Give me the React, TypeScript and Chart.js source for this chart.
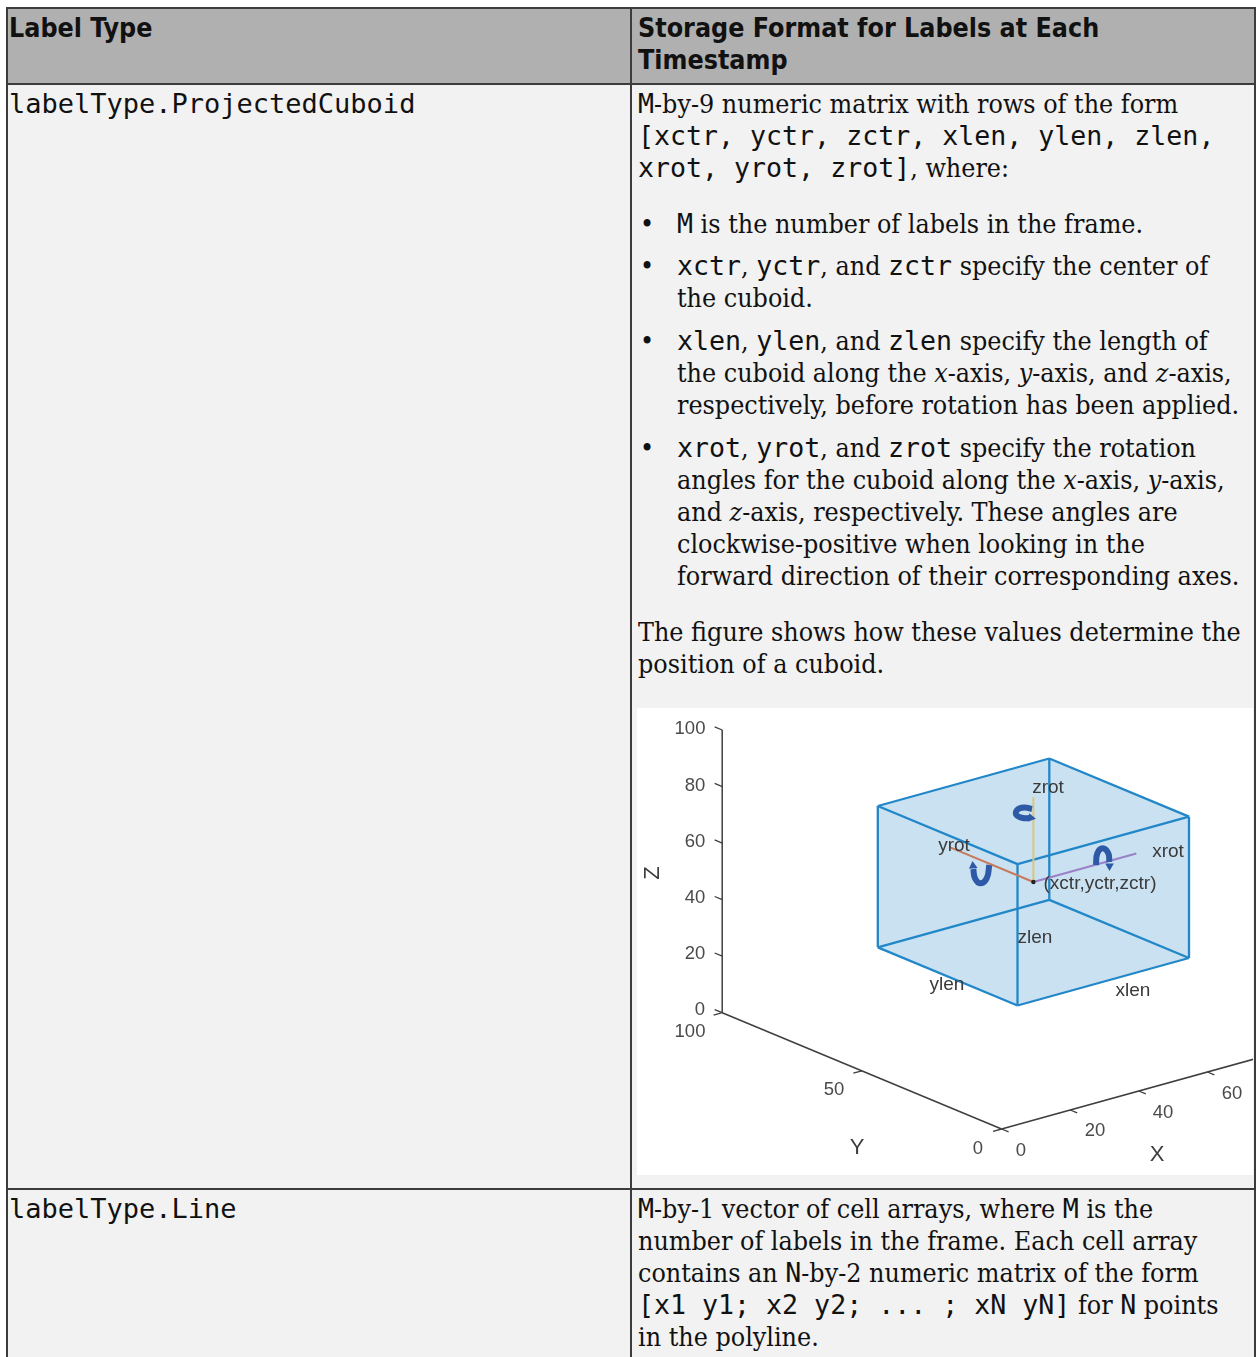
import React, { useEffect, useRef } from "react";
import { Chart, registerables } from "chart.js";

Chart.register(...registerables);

// ---------- table text ----------
// `mono`, *italic*
const headerLines = [
  { col: 0, row: 28, text: "Label Type" },
  { col: 1, row: 28, text: "Storage Format for Labels at Each" },
  { col: 1, row: 60, text: "Timestamp" },
];
const leftLines = [
  { row: 104, text: "labelType.ProjectedCuboid" },
  { row: 1209, text: "labelType.Line" },
];
const rightLines = [
  { row: 104, text: "`M`-by-9 numeric matrix with rows of the form" },
  { row: 136, text: "`[xctr, yctr, zctr, xlen, ylen, zlen,`" },
  { row: 168, text: "`xrot, yrot, zrot]`, where:" },
  { row: 632, text: "The figure shows how these values determine the" },
  { row: 664, text: "position of a cuboid." },
  { row: 1209, text: "`M`-by-1 vector of cell arrays, where `M` is the" },
  { row: 1241, text: "number of labels in the frame. Each cell array" },
  { row: 1273, text: "contains an `N`-by-2 numeric matrix of the form" },
  { row: 1305, text: "`[x1 y1; x2 y2; ... ; xN yN]` for `N` points" },
  { row: 1337, text: "in the polyline." },
];
const bulletLines = [
  { row: 224, bullet: true, text: "`M` is the number of labels in the frame." },
  { row: 266, bullet: true, text: "`xctr`, `yctr`, and `zctr` specify the center of" },
  { row: 298, bullet: false, text: "the cuboid." },
  { row: 341, bullet: true, text: "`xlen`, `ylen`, and `zlen` specify the length of" },
  { row: 373, bullet: false, text: "the cuboid along the *x*-axis, *y*-axis, and *z*-axis," },
  { row: 405, bullet: false, text: "respectively, before rotation has been applied." },
  { row: 448, bullet: true, text: "`xrot`, `yrot`, and `zrot` specify the rotation" },
  { row: 480, bullet: false, text: "angles for the cuboid along the *x*-axis, *y*-axis," },
  { row: 512, bullet: false, text: "and *z*-axis, respectively. These angles are" },
  { row: 544, bullet: false, text: "clockwise-positive when looking in the" },
  { row: 576, bullet: false, text: "forward direction of their corresponding axes." },
];

// ---------- figure data (3-D axes values) ----------
const xTicks = [0, 20, 40, 60];
const yTicks = [0, 50, 100];
const zTicks = [0, 20, 40, 60, 80, 100];
const xAxisEnd = 100;
const yAxisEnd = 100;
const zAxisEnd = 100;
const cubeLow = 25;
const cubeHigh = 75;
const cubeCenter = [50, 50, 50];
const armEnds = {
  x: [80, 50, 50],
  y: [50, 80, 50],
  z: [50, 50, 80],
};
// hand-read curved arrows, in the picture's own plot units
const zrotArrow = [[395, 101], [387, 99.5], [380, 102], [379.5, 107], [386, 110], [392, 110]];
const yrotArrow = [[352.3, 157], [349.7, 170.3], [343, 175.3], [338, 170.3], [336.3, 161]];
const xrotArrow = [[459, 157], [460.3, 145.3], [465.7, 140.3], [471.3, 145.3], [472.3, 154]];
const arrowHeads = [
  { at: [394, 110], rotation: 100 },
  { at: [336, 158], rotation: -5 },
  { at: [472.5, 158], rotation: 180 },
];
const tickLabels = [
  { text: "100", at: [53, 21] }, { text: "80", at: [58, 78] }, { text: "60", at: [58, 134] },
  { text: "40", at: [58, 190] }, { text: "20", at: [58, 246] }, { text: "0", at: [63, 302] },
  { text: "100", at: [53, 324] }, { text: "50", at: [197, 382] }, { text: "0", at: [341, 441] },
  { text: "0", at: [384, 443] }, { text: "20", at: [458, 423] }, { text: "40", at: [526, 405] },
  { text: "60", at: [595, 386] },
];
const axisTitles = [
  { text: "Y", at: [220, 440], rotation: 0 },
  { text: "X", at: [520, 447], rotation: 0 },
  { text: "Z", at: [16, 165], rotation: -90 },
];
const partLabels = [
  { text: "zrot", at: [411, 80] },
  { text: "yrot", at: [317, 138] },
  { text: "xrot", at: [531, 144] },
  { text: "(xctr,yctr,zctr)", at: [463, 176] },
  { text: "zlen", at: [398, 230] },
  { text: "ylen", at: [310, 277] },
  { text: "xlen", at: [496, 283] },
];

// ---------- projection from axes values to the plot's units ----------
const PLOT_W = 616;
const PLOT_H = 467;
const project = ([x, y, z]: number[]) => ({
  x: 364.6 + 3.43 * x - 2.794 * y,
  y: 421 - 0.95 * x - 1.163 * y - 2.827 * z,
});
const pts = (list: number[][]) => list.map(([x, y]) => ({ x, y }));

const AXIS = "#3f3f3f";
const EDGE = "#2287c8";
const FACE = "#c9e1f1";

function lineSet(data: { x: number; y: number }[], color: string, width: number, extra: any = {}) {
  return {
    data,
    borderColor: color,
    borderWidth: width,
    backgroundColor: "transparent",
    showLine: true,
    pointRadius: 0,
    tension: 0,
    ...extra,
  };
}

function buildDatasets() {
  const L = cubeLow;
  const H = cubeHigh;
  const sets: any[] = [];
  // faces silhouette
  sets.push(
    lineSet(
      [[L, H, H], [H, H, H], [H, L, H], [H, L, L], [L, L, L], [L, H, L], [L, H, H]].map(project),
      FACE,
      0,
      { fill: "shape", backgroundColor: FACE }
    )
  );
  // cuboid edges
  const edges = [
    [[L, L, L], [H, L, L]], [[L, L, L], [L, H, L]], [[L, L, L], [L, L, H]],
    [[H, H, L], [L, H, L]], [[H, H, L], [H, L, L]], [[H, H, L], [H, H, H]],
    [[L, H, H], [H, H, H]], [[L, H, H], [L, L, H]], [[L, H, H], [L, H, L]],
    [[H, L, H], [L, L, H]], [[H, L, H], [H, H, H]], [[H, L, H], [H, L, L]],
  ];
  edges.forEach((e) => sets.push(lineSet(e.map(project), EDGE, 2.3)));
  // axes
  sets.push(lineSet([[0, yAxisEnd, 0], [0, yAxisEnd, zAxisEnd]].map(project), AXIS, 1.5));
  sets.push(lineSet([[0, 0, 0], [0, yAxisEnd, 0]].map(project), AXIS, 1.5));
  sets.push(lineSet([[0, 0, 0], [xAxisEnd, 0, 0]].map(project), AXIS, 1.5));
  zTicks.forEach((z) => sets.push(lineSet([[0, yAxisEnd, z], [0, yAxisEnd + 2.7, z]].map(project), AXIS, 1.3)));
  yTicks.forEach((y) => sets.push(lineSet([[0, y, 0], [-2.5, y, 0]].map(project), AXIS, 1.3)));
  xTicks.forEach((x) => sets.push(lineSet([[x, 0, 0], [x, -2.5, 0]].map(project), AXIS, 1.3)));
  // rotation arms
  sets.push(lineSet([cubeCenter, armEnds.x].map(project), "#9a80c6", 2));
  sets.push(lineSet([cubeCenter, armEnds.y].map(project), "#c8795c", 2));
  sets.push(lineSet([cubeCenter, armEnds.z].map(project), "#d9c77c", 2));
  // curved arrows
  [zrotArrow, yrotArrow, xrotArrow].forEach((a) =>
    sets.push(lineSet(pts(a), "#2e59a6", 6, { tension: 0.45 }))
  );
  arrowHeads.forEach((h) =>
    sets.push({
      data: pts([h.at]),
      showLine: false,
      pointStyle: "triangle",
      pointRadius: 5,
      rotation: h.rotation,
      backgroundColor: "#2e59a6",
      borderColor: "#2e59a6",
      borderWidth: 0,
    })
  );
  // centre point
  sets.push({
    data: [project(cubeCenter)],
    showLine: false,
    pointRadius: 2.2,
    backgroundColor: "#222222",
    borderWidth: 0,
  });
  // chart.js paints the first dataset last
  return sets.reverse();
}

const figureText = {
  id: "figureText",
  afterDatasetsDraw(chart: any) {
    const { ctx, scales } = chart;
    const put = (t: any, size: number, color: string) => {
      ctx.save();
      ctx.translate(scales.x.getPixelForValue(t.at[0]), scales.y.getPixelForValue(t.at[1]));
      if (t.rotation) ctx.rotate((t.rotation * Math.PI) / 180);
      ctx.font = `${size}px "Liberation Sans"`;
      ctx.fillStyle = color;
      ctx.textAlign = "center";
      ctx.textBaseline = "middle";
      ctx.fillText(t.text, 0, 0);
      ctx.restore();
    };
    tickLabels.forEach((t) => put(t, 18.5, "#4a4a4a"));
    axisTitles.forEach((t) => put(t, 22, "#3d3d3d"));
    partLabels.forEach((t) => put(t, 19, "#3a3a3a"));
  },
};

// ---------- text helpers ----------
const SERIF = '"DejaVu Serif Condensed", "DejaVu Serif"';
const MONO = '"DejaVu Sans Mono"';
const HEAD = '"DejaVu Sans Condensed", "DejaVu Sans"';

function runs(text: string) {
  return text.split(/(`[^`]*`|\*[^*]*\*)/).filter(Boolean).map((part, i) => {
    if (part[0] === "`")
      return (
        <span key={i} style={{ fontFamily: MONO, fontSize: 26.6 }}>
          {part.slice(1, -1)}
        </span>
      );
    if (part[0] === "*")
      return (
        <span key={i} style={{ fontStyle: "italic" }}>
          {part.slice(1, -1)}
        </span>
      );
    return <span key={i}>{part}</span>;
  });
}

function Line({ x, row, text }: { x: number; row: number; text: string }) {
  return (
    <div
      style={{
        position: "absolute",
        left: x,
        top: row - 16,
        height: 32,
        lineHeight: "32px",
        whiteSpace: "pre",
        fontFamily: SERIF,
        fontSize: 26.6,
        color: "#111111",
      }}
    >
      {runs(text)}
    </div>
  );
}

function Box({ l, t, w, h, c }: { l: number; t: number; w: number; h: number; c: string }) {
  return <div style={{ position: "absolute", left: l, top: t, width: w, height: h, background: c }} />;
}

export default function App() {
  const ref = useRef<HTMLCanvasElement>(null);
  useEffect(() => {
    const chart = new Chart(ref.current!, {
      type: "scatter",
      data: { datasets: buildDatasets() },
      options: {
        animation: false,
        responsive: false,
        maintainAspectRatio: false,
        layout: { padding: 0, autoPadding: false },
        plugins: { legend: { display: false }, tooltip: { enabled: false }, title: { display: false } },
        scales: {
          x: { type: "linear", display: false, min: 0, max: PLOT_W },
          y: { type: "linear", display: false, min: 0, max: PLOT_H, reverse: true },
        },
      },
      plugins: [figureText],
    } as any);
    return () => chart.destroy();
  }, []);

  const border = "#3c3c3c";
  return (
    <div style={{ position: "absolute", left: 0, top: 0, width: 1256, height: 1357, overflow: "hidden", background: "#fff" }}>
      <Box l={6} t={8} w={1250} h={75} c="#b0b0b0" />
      <Box l={6} t={84} w={1250} h={1273} c="#f2f2f2" />
      <Box l={6} t={7} w={1250} h={2} c={border} />
      <Box l={6} t={83} w={1250} h={2} c={border} />
      <Box l={6} t={1188} w={1250} h={2} c={border} />
      <Box l={6} t={7} w={2} h={1350} c={border} />
      <Box l={630} t={7} w={2} h={1350} c={border} />
      <Box l={1254} t={7} w={2} h={1350} c={border} />
      {headerLines.map((h, i) => (
        <div
          key={i}
          style={{
            position: "absolute",
            left: h.col === 0 ? 9 : 638,
            top: h.row - 16,
            lineHeight: "32px",
            whiteSpace: "pre",
            fontFamily: HEAD,
            fontWeight: "bold",
            fontSize: 26.6,
            color: "#111111",
          }}
        >
          {h.text}
        </div>
      ))}
      {leftLines.map((l, i) => (
        <div
          key={i}
          style={{
            position: "absolute",
            left: 9,
            top: l.row - 16,
            lineHeight: "32px",
            whiteSpace: "pre",
            fontFamily: MONO,
            fontSize: 27,
            color: "#111111",
          }}
        >
          {l.text}
        </div>
      ))}
      {rightLines.map((l, i) => <Line key={i} x={638} row={l.row} text={l.text} />)}
      {bulletLines.map((l, i) => (
        <React.Fragment key={i}>
          {l.bullet && <Line x={640} row={l.row} text="•" />}
          <Line x={677} row={l.row} text={l.text} />
        </React.Fragment>
      ))}
      <div style={{ position: "absolute", left: 637, top: 708, width: PLOT_W, height: PLOT_H, background: "#fff" }}>
        <canvas
          ref={ref}
          width={PLOT_W}
          height={PLOT_H}
          style={{ display: "block", width: PLOT_W, height: PLOT_H, filter: "blur(0.6px)" }}
        />
      </div>
    </div>
  );
}
